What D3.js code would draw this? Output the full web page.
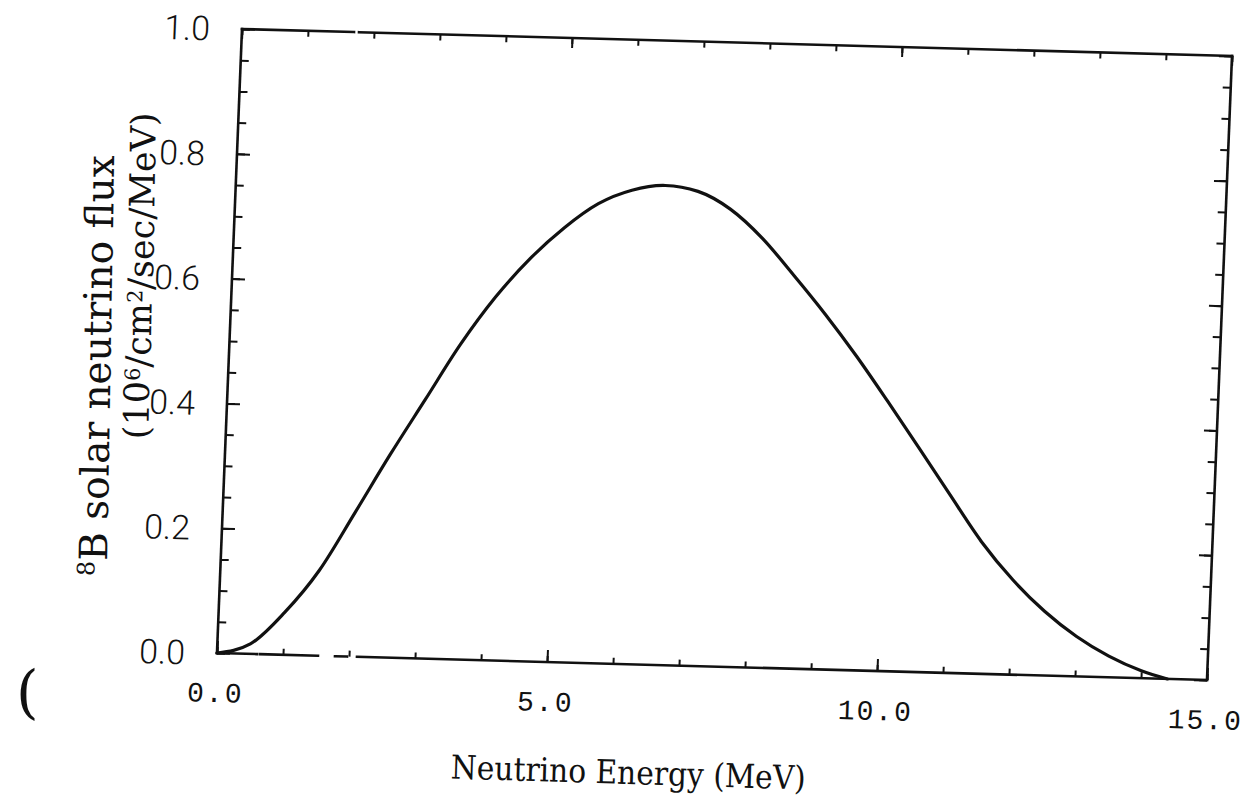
<!DOCTYPE html>
<html>
<head>
<meta charset="utf-8">
<script src="https://cdn.jsdelivr.net/npm/d3@7"></script>
<style>
  body { margin: 0; background: #fff; }
  svg { display: block; }
</style>
</head>
<body>
<svg id="chart" width="1247" height="807"></svg>
<script>
// 8B solar neutrino spectrum, flux in 10^6 / cm^2 / sec / MeV
const energy = [0, 0.5, 1.0, 1.5, 2.0, 2.5, 3.0, 3.5, 4.0, 4.5, 5.0, 5.5, 6.0, 6.5, 7.0,
  7.5, 8.0, 8.5, 9.0, 9.5, 10.0, 10.5, 11.0, 11.5, 12.0, 12.5, 13.0, 13.5, 14.0, 14.4];
const flux = [0, 0.016, 0.068, 0.137, 0.230, 0.325, 0.415, 0.505, 0.582, 0.645, 0.696,
  0.736, 0.759, 0.768, 0.760, 0.733, 0.688, 0.630, 0.569, 0.503, 0.432, 0.359, 0.285,
  0.212, 0.152, 0.103, 0.064, 0.034, 0.012, 0];

const xMajorTicks = [0, 5, 10, 15];
const xTickLabels = ["0.0", "5.0", "10.0", "15.0"];
const xMinorTicks = d3.range(0, 16, 1);
const yMajorTicks = [0, 0.2, 0.4, 0.6, 0.8, 1.0];
const yTickLabels = ["0.0", "0.2", "0.4", "0.6", "0.8", "1.0"];
const yMinorTicks = d3.range(0, 21, 1).map(i => i * 0.05);

const W = 990, H = 624;
const svg = d3.select("#chart");
const ink = "#111";

const x = d3.scaleLinear().domain([0, 15]).range([0, W]);
const y = d3.scaleLinear().domain([0, 1]).range([H, 0]);

// the plotted page sits slightly skewed
const plot = svg.append("g")
  .attr("transform", "matrix(1,0.0273,-0.0401,1,242,29)");

// frame, with the small breaks of the printed rule
const frame = plot.append("g").attr("stroke", ink).attr("stroke-width", 2.6)
  .attr("fill", "none").attr("stroke-linecap", "square");
frame.append("line").attr("x1", 0).attr("y1", H).attr("x2", W).attr("y2", H)
  .attr("stroke-dasharray", "40,3,58,17,12,10,2000");
frame.append("line").attr("x1", 0).attr("y1", 0).attr("x2", W).attr("y2", 0)
  .attr("stroke-dasharray", "112,5,2000");
frame.append("line").attr("x1", 0).attr("y1", 0).attr("x2", 0).attr("y2", H);
frame.append("line").attr("x1", W).attr("y1", 0).attr("x2", W).attr("y2", H);

function ticks(axisGen, values, size, transform) {
  const g = plot.append("g").attr("transform", transform)
    .call(axisGen.tickValues(values).tickSize(size).tickFormat(""));
  g.select(".domain").remove();
  g.selectAll(".tick line").attr("stroke", ink).attr("stroke-width", 2);
}
ticks(d3.axisBottom(x), xMinorTicks, -6, `translate(0,${H})`);
ticks(d3.axisBottom(x), xMajorTicks, -12, `translate(0,${H})`);
ticks(d3.axisTop(x), xMinorTicks, -6, "translate(0,0)");
ticks(d3.axisTop(x), xMajorTicks, -10, "translate(0,0)");
ticks(d3.axisLeft(y), yMinorTicks, -8, "translate(0,0)");
ticks(d3.axisLeft(y), yMajorTicks, -13, "translate(0,0)");
ticks(d3.axisRight(y), yMinorTicks, -8, `translate(${W},0)`);
ticks(d3.axisRight(y), yMajorTicks, -13, `translate(${W},0)`);

// tick labels
plot.append("g").selectAll("text").data(xMajorTicks).join("text")
  .attr("x", d => x(d)).attr("y", H + 49)
  .attr("text-anchor", "middle")
  .attr("font-family", "Liberation Mono").attr("font-size", 28)
  .attr("letter-spacing", 2).attr("fill", ink)
  .text((d, i) => xTickLabels[i]);

plot.append("g").selectAll("text").data(yMajorTicks).join("text")
  .attr("x", -32).attr("y", d => y(d))
  .attr("dy", "0.36em")
  .attr("text-anchor", "end")
  .attr("font-family", "Roboto").attr("font-weight", 300).attr("font-size", 34)
  .attr("fill", ink)
  .text((d, i) => yTickLabels[i]);

// spectrum curve
const pts = energy.map((e, i) => [e, flux[i]]);
plot.append("path").datum(pts)
  .attr("fill", "none").attr("stroke", ink).attr("stroke-width", 3.2)
  .attr("stroke-linejoin", "round").attr("stroke-linecap", "round")
  .attr("d", d3.line().x(d => x(d[0])).y(d => y(d[1])).curve(d3.curveMonotoneX));

// axis titles
svg.append("text")
  .attr("transform", "translate(628,784) rotate(1.8) scale(0.9,1)")
  .attr("text-anchor", "middle")
  .attr("font-family", "DejaVu Serif").attr("font-size", 33).attr("fill", ink)
  .text("Neutrino Energy (MeV)");

const yt1 = svg.append("text")
  .attr("transform", "translate(110,366) rotate(-89)")
  .attr("text-anchor", "middle")
  .attr("font-family", "DejaVu Serif").attr("font-size", 39).attr("fill", ink);
yt1.append("tspan").attr("font-size", 24).attr("dy", "-0.5em").text("8");
yt1.append("tspan").attr("dy", "0.32em").text("B solar neutrino flux");

const yt2 = svg.append("text")
  .attr("transform", "translate(151,276) rotate(-89)")
  .attr("text-anchor", "middle")
  .attr("font-family", "DejaVu Serif").attr("font-size", 35).attr("fill", ink);
yt2.append("tspan").text("(10");
yt2.append("tspan").attr("font-size", 21).attr("dy", "-0.45em").text("6");
yt2.append("tspan").attr("dy", "0.3em").text("/cm");
yt2.append("tspan").attr("font-size", 21).attr("dy", "-0.45em").text("2");
yt2.append("tspan").attr("dy", "0.3em").text("/sec/MeV)");

// stray mark at the lower left of the sheet
svg.append("text")
  .attr("x", 16).attr("y", 712)
  .attr("font-family", "DejaVu Serif").attr("font-size", 58).attr("fill", ink)
  .text("(");
</script>
</body>
</html>
